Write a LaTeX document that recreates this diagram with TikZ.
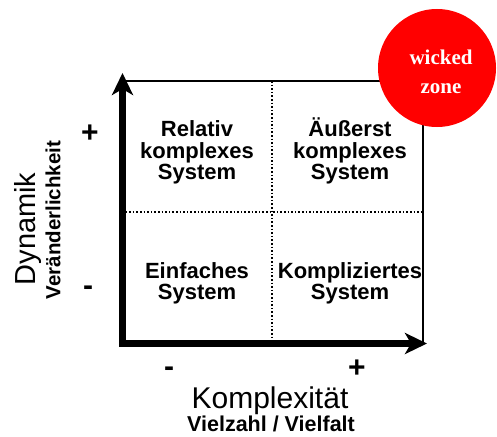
\documentclass[tikz,border=0pt]{standalone}
\usepackage{fontspec}
\setmainfont{Liberation Sans}
\newfontfamily\zonefont{Liberation Serif}
\usetikzlibrary{arrows.meta,positioning}

\begin{document}
\begin{tikzpicture}[x=1pt,y=-1pt,
    quad/.style={font=\bfseries\fontsize{22}{21.5}\selectfont,align=center,inner sep=0pt,anchor=south},
    sign/.style={font=\bfseries\fontsize{30}{30}\selectfont,inner sep=0pt},
    axis/.style={line width=7pt,line join=miter,{Stealth[length=22pt,width=21pt,inset=6pt]}-{Stealth[length=22pt,width=21pt,inset=6pt]}}]
    \useasboundingbox (0,0) rectangle (497,436);
    \coordinate (o) at (122.5,343.5);
    \coordinate (ytip) at (122.5,73);
    \coordinate (xtip) at (427,343.5);
    \coordinate (tl) at (122,81);
    \coordinate (tr) at (423,81);
    \coordinate (br) at (423,343);
    \coordinate (mt) at (272,81);
    \coordinate (mb) at (272,343);
    \coordinate (ml) at (122,212);
    \coordinate (mr) at (423,212);
    \draw[line width=1.8pt] (tl) -- (tr) -- (br);
    \draw[line width=1.6pt,dotted] (mt) -- (mb);
    \draw[line width=1.6pt,dotted] (ml) -- (mr);
    \node[circle,fill=red,minimum size=118pt,inner sep=0pt] (wicked) at (437,68) {};
    \node[align=center,text=white,font=\zonefont\bfseries\fontsize{21}{29}\selectfont] (zone) at (441,72) {wicked\\zone};
    \draw[axis] (ytip) -- (o) -- (xtip);
    \node[quad] (relativ) at (197,184.5) {Relativ\\komplexes\\System};
    \node[quad] (aeusserst) at (350,184.5) {Äußerst\\komplexes\\System};
    \node[quad] (einfach) at (197,304.5) {Einfaches\\System};
    \node[quad] (kompliziert) at (350,304.5) {Kompliziertes\\System};
    \node[sign] (yplus) at (90,134) {+};
    \node[sign] (yminus) at (88,291) {-};
    \node[sign] (xminus) at (169,372) {-};
    \node[sign] (xplus) at (357,369) {+};
    \node[rotate=90,font=\fontsize{29}{29}\selectfont] (dynamik) at (28,229) {Dynamik};
    \node[rotate=90,font=\bfseries\fontsize{20.5}{20.5}\selectfont] (veraend) at (53,220) {Veränderlichkeit};
    \node[anchor=base,font=\fontsize{30}{30}\selectfont] (komplex) at (270,408) {Komplexität};
    \node[anchor=base,font=\bfseries\fontsize{21.5}{21.5}\selectfont] (vielzahl) at (271,431) {Vielzahl / Vielfalt};
\end{tikzpicture}
\end{document}
